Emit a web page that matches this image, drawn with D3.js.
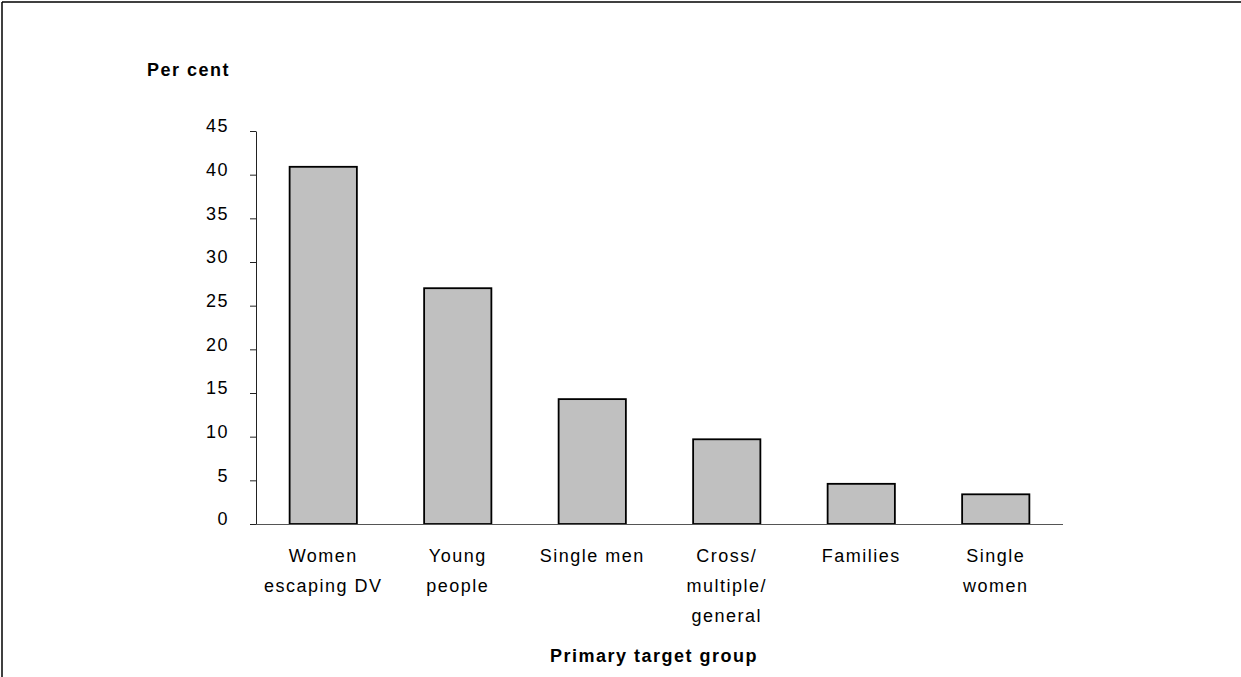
<!DOCTYPE html>
<html><head><meta charset="utf-8">
<script src="https://cdn.jsdelivr.net/npm/d3@7"></script>
<style>
html,body{margin:0;padding:0;background:#fff;}
text{font-family:"Liberation Sans",Arial,sans-serif;fill:#000;}
</style></head>
<body>
<svg id="chart" width="1241" height="677"></svg>
<script>
const categories = [["Women","escaping DV"],["Young","people"],["Single men"],["Cross/","multiple/","general"],["Families"],["Single","women"]];
const values = [40.9, 27.0, 14.3, 9.7, 4.6, 3.4];
const yTicks = [0,5,10,15,20,25,30,35,40,45];
const yLabel = "Per cent";
const xLabel = "Primary target group";

const svg = d3.select("#chart");
const ids = d3.range(values.length);

// border (left + top)
svg.append("line").attr("x1",2).attr("y1",2).attr("x2",1241).attr("y2",2).attr("stroke","#000").attr("stroke-width",1.5);
svg.append("line").attr("x1",2).attr("y1",2).attr("x2",2).attr("y2",677).attr("stroke","#000").attr("stroke-width",1.5);

const x = d3.scaleBand().domain(ids).range([256,1063]).paddingInner(0.5).paddingOuter(0.25);
const y = d3.scaleLinear().domain([0,45]).range([524,131]);

// y axis
const yAxis = d3.axisLeft(y).tickValues(yTicks).tickSize(6).tickSizeOuter(0).tickPadding(21);
const gy = svg.append("g").attr("transform","translate(256,0)").call(yAxis);
gy.select(".domain").attr("stroke","#222").attr("stroke-width",1);
gy.selectAll(".tick line").attr("stroke","#222");
gy.selectAll(".tick text").attr("font-size",18).attr("font-family","Liberation Sans, Arial, sans-serif").attr("letter-spacing","1.5px").attr("fill","#000").attr("y",-5).attr("dy","0.32em");

// bars
svg.append("g").selectAll("rect").data(ids).join("rect")
  .attr("x",d=>x(d)).attr("y",d=>y(values[d]))
  .attr("width",x.bandwidth()).attr("height",d=>y(0)-y(values[d]))
  .attr("fill","#c0c0c0").attr("stroke","#000").attr("stroke-width",1.8);

// x axis line
svg.append("line").attr("x1",256).attr("x2",1063).attr("y1",524.5).attr("y2",524.5).attr("stroke","#555").attr("stroke-width",1.2);

// x category labels
const xl = svg.append("g").selectAll("text").data(ids).join("text")
  .attr("text-anchor","middle").attr("font-size",18).attr("letter-spacing","1.5px")
  .attr("transform",d=>`translate(${x(d)+x.bandwidth()/2},0)`);
xl.each(function(d){
  const t = d3.select(this);
  categories[d].forEach((line,i)=>{
    t.append("tspan").attr("x",0).attr("y",561.5+i*30).text(line);
  });
});

// axis titles
svg.append("text").attr("x",147).attr("y",76).attr("font-size",18).attr("font-weight","bold").attr("letter-spacing","1.5px").text(yLabel);
svg.append("text").attr("x",654).attr("y",662).attr("text-anchor","middle").attr("font-size",18).attr("font-weight","bold").attr("letter-spacing","1.5px").text(xLabel);
</script>
</body></html>
